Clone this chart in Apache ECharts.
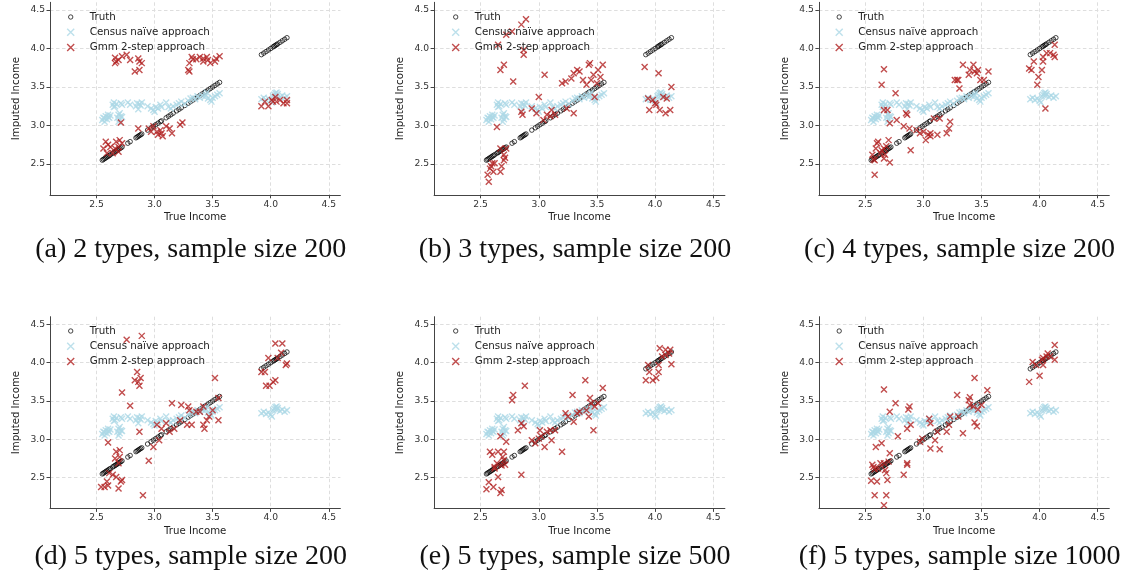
<!DOCTYPE html>
<html>
<head>
<meta charset="utf-8">
<script src="https://cdn.jsdelivr.net/npm/echarts@6/dist/echarts.min.js"></script>
<style>
  html, body { margin: 0; padding: 0; background: #ffffff; }
  #chart { width: 1128px; height: 581px; }
</style>
</head>
<body>
<div id="chart"></div>
<script>
// ---- data -------------------------------------------------------------
const tickValues = [2.5, 3.0, 3.5, 4.0, 4.5];

const seriesNames = ['Truth', 'Census na\u00efve approach', 'Gmm 2-step approach'];

const captions = [
  '(a) 2 types, sample size 200',
  '(b) 3 types, sample size 200',
  '(c) 4 types, sample size 200',
  '(d) 5 types, sample size 200',
  '(e) 5 types, sample size 500',
  '(f) 5 types, sample size 1000'
];

// true income of the observations (the truth marks sit on imputed = true)
const trueIncome = [
  2.55, 2.56, 2.57, 2.58, 2.59, 2.60, 2.61, 2.62, 2.64, 2.65, 2.66, 2.67, 2.68, 2.69, 2.70, 2.71, 2.72,
  2.77, 2.79, 2.84, 2.85, 2.86, 2.87, 2.88, 2.89,
  2.94, 2.97, 2.99, 3.01, 3.03, 3.05, 3.06,
  3.10, 3.12, 3.14, 3.16, 3.19, 3.21, 3.23, 3.26,
  3.29, 3.31, 3.33, 3.35, 3.37, 3.39, 3.41, 3.43, 3.44, 3.46, 3.48, 3.50, 3.52, 3.54, 3.56,
  3.92, 3.94, 3.96, 3.98, 4.00, 4.02, 4.03, 4.04, 4.05, 4.06, 4.08, 4.10, 4.12, 4.14
];

// census naive imputation: [true income, imputed income]
const censusNaive = [
  [2.55,3.07],[2.56,3.10],[2.57,3.09],[2.58,3.12],[2.59,3.08],[2.60,3.11],[2.61,3.10],[2.62,3.13],[2.57,3.05],[2.60,3.14],
  [2.64,3.27],[2.65,3.30],[2.66,3.25],[2.67,3.28],[2.65,3.24],[2.68,3.10],[2.69,3.14],[2.70,3.08],[2.71,3.12],[2.72,3.27],
  [2.69,3.05],[2.70,3.16],[2.72,3.11],[2.71,3.29],
  [2.77,3.30],[2.79,3.27],[2.84,3.25],[2.85,3.29],[2.86,3.21],[2.87,3.28],[2.88,3.26],[2.89,3.30],
  [2.94,3.25],[2.97,3.22],[2.99,3.20],[3.01,3.24],[3.03,3.22],[3.05,3.27],[3.06,3.24],[3.00,3.18],
  [3.10,3.30],[3.12,3.24],[3.14,3.22],[3.16,3.25],[3.19,3.27],[3.21,3.29],[3.23,3.31],[3.26,3.28],
  [3.29,3.32],[3.31,3.35],[3.33,3.36],[3.35,3.34],[3.37,3.38],[3.39,3.36],[3.41,3.39],[3.43,3.37],[3.44,3.40],[3.46,3.35],
  [3.48,3.33],[3.50,3.36],[3.52,3.38],[3.54,3.40],[3.56,3.42],[3.45,3.43],[3.49,3.31],
  [3.92,3.34],[3.94,3.36],[3.96,3.33],[3.98,3.35],[4.00,3.32],[4.02,3.38],[4.03,3.40],[4.04,3.42],[4.05,3.39],[4.06,3.41],
  [4.08,3.37],[4.10,3.39],[4.12,3.36],[4.14,3.38],[4.01,3.30],[4.05,3.43]
];

// GMM 2-step imputation: [true income, imputed income]
const gmmTypes2N200 = [
  [2.56,2.70],[2.58,2.79],[2.59,2.64],[2.60,2.75],[2.62,2.72],[2.64,2.64],[2.66,2.70],[2.67,2.79],[2.69,2.72],[2.69,2.66],[2.70,2.81],[2.72,2.77],[2.71,3.04],
  [2.66,3.88],[2.66,3.81],[2.67,3.83],[2.69,3.85],[2.72,3.90],[2.76,3.92],[2.79,3.85],[2.83,3.70],[2.86,3.87],[2.87,3.83],[2.87,3.72],[2.89,3.81],
  [2.86,2.96],[2.95,2.96],[2.97,2.92],[2.99,2.99],[3.02,2.92],[3.03,2.88],[3.05,2.94],[3.06,2.90],[3.07,2.86],[3.10,2.99],[3.13,2.96],[3.15,2.90],[3.22,3.01],[3.24,3.04],
  [3.29,3.72],[3.30,3.70],[3.30,3.81],[3.32,3.89],[3.33,3.86],[3.36,3.86],[3.39,3.89],[3.42,3.83],[3.42,3.87],[3.45,3.89],[3.46,3.85],[3.48,3.81],[3.52,3.83],[3.53,3.87],[3.56,3.90],
  [3.92,3.25],[3.95,3.31],[3.98,3.25],[4.01,3.33],[4.02,3.31],[4.04,3.37],[4.05,3.31],[4.08,3.33],[4.11,3.29],[4.14,3.33],[4.14,3.29]
];

const gmmTypes3N200 = [
  [2.56,2.36],[2.57,2.27],[2.58,2.44],[2.60,2.51],[2.61,2.40],[2.62,2.51],[2.67,2.40],[2.68,2.47],[2.70,2.55],[2.70,2.62],[2.72,2.70],[2.67,2.70],[2.64,2.98],[2.59,2.47],[2.71,2.58],
  [2.65,4.05],[2.67,3.72],[2.70,3.79],[2.72,4.18],[2.77,4.22],[2.78,3.57],[2.85,4.31],[2.87,3.92],[2.87,3.98],[2.89,4.38],
  [2.85,3.18],[2.86,3.14],[2.94,3.22],[2.98,3.16],[3.00,3.37],[3.05,3.66],[3.04,3.07],[3.07,3.14],[3.10,3.12],[3.11,3.20],[3.14,3.14],
  [3.20,3.55],[3.23,3.57],[3.24,3.22],[3.28,3.61],[3.30,3.16],[3.30,3.68],[3.33,3.72],[3.35,3.70],[3.38,3.59],[3.41,3.53],[3.43,3.79],[3.44,3.81],[3.45,3.59],
  [3.48,3.37],[3.47,3.66],[3.51,3.72],[3.53,3.63],[3.55,3.79],[3.50,3.55],
  [3.91,3.76],[3.94,3.35],[3.95,3.20],[3.98,3.33],[4.01,3.27],[4.03,3.68],[4.04,3.20],[4.07,3.37],[4.09,3.16],[4.10,3.35],[4.13,3.20],[4.14,3.50],[4.00,3.29]
];

const gmmTypes4N200 = [
  [2.56,2.62],[2.57,2.56],[2.58,2.36],[2.59,2.70],[2.60,2.77],[2.58,2.55],[2.61,2.79],[2.63,2.64],[2.64,2.68],[2.66,2.57],[2.66,2.70],[2.67,2.62],[2.68,2.73],[2.70,2.81],[2.71,2.52],
  [2.64,3.53],[2.66,3.73],[2.66,3.20],[2.69,3.20],[2.71,3.03],[2.76,3.42],[2.77,3.07],[2.83,2.99],[2.85,3.16],[2.86,3.14],[2.88,2.96],[2.89,2.68],
  [2.94,2.94],[2.97,2.90],[3.00,2.92],[3.02,2.81],[3.04,2.88],[3.06,2.86],[3.06,2.90],[3.09,3.09],[3.12,2.88],[3.14,3.09],[3.20,2.90],[3.22,2.96],[3.23,3.05],
  [3.27,3.59],[3.29,3.59],[3.31,3.48],[3.30,3.59],[3.34,3.79],[3.39,3.66],[3.40,3.72],[3.43,3.79],[3.44,3.70],[3.47,3.72],[3.49,3.59],[3.52,3.59],[3.56,3.70],[3.46,3.68],
  [3.91,3.74],[3.93,3.72],[3.95,3.83],[3.98,3.53],[3.99,3.63],[4.02,3.72],[4.03,3.83],[4.03,3.89],[4.05,3.22],[4.06,3.94],[4.09,3.94],[4.12,3.92],[4.13,3.89],[4.13,4.05]
];

const gmmTypes5N200 = [
  [2.54,2.38],[2.57,2.38],[2.59,2.45],[2.60,2.40],[2.61,2.56],[2.60,2.96],[2.64,2.54],[2.66,2.75],[2.67,2.84],[2.69,2.69],[2.67,2.51],[2.70,2.86],[2.70,2.77],[2.71,2.45],[2.69,2.36],[2.72,2.47],
  [2.72,3.61],[2.76,4.30],[2.79,3.44],[2.83,3.77],[2.85,3.88],[2.86,3.75],[2.87,3.70],[2.87,3.10],[2.88,3.80],[2.89,4.35],[2.90,2.27],
  [2.95,2.72],[2.99,2.90],[3.02,3.19],[3.04,2.99],[3.06,3.14],[3.10,3.21],[3.13,3.10],[3.15,3.47],[3.17,3.14],[3.22,3.25],[3.23,3.45],
  [3.28,3.19],[3.29,3.43],[3.30,3.38],[3.32,3.19],[3.36,3.36],[3.39,3.36],[3.42,3.19],[3.43,3.14],[3.45,3.25],[3.47,3.30],[3.50,3.38],[3.52,3.80],[3.55,3.25],[3.55,3.54],[3.42,3.43],
  [3.92,3.88],[3.95,3.88],[3.96,3.70],[3.99,3.70],[4.02,3.75],[4.04,3.77],[4.04,4.25],[4.06,4.06],[4.09,4.13],[4.10,4.25],[4.13,3.97],[4.14,3.99],[3.98,4.06]
];

const gmmTypes5N500 = [
  [2.55,2.35],[2.57,2.44],[2.58,2.84],[2.60,2.80],[2.61,2.38],[2.62,2.64],[2.64,2.69],[2.65,2.84],[2.65,2.51],[2.67,2.30],[2.68,2.34],[2.69,2.77],[2.70,2.84],[2.71,2.67],[2.72,2.97],
  [2.67,3.04],[2.70,2.73],[2.62,2.62],[2.68,2.66],
  [2.77,3.51],[2.78,3.58],[2.82,3.12],[2.85,3.21],[2.85,2.54],[2.88,3.70],[2.87,3.17],
  [2.94,2.99],[2.97,2.95],[3.00,3.01],[3.01,3.12],[3.02,3.04],[3.05,2.90],[3.07,3.10],[3.10,3.12],[3.11,2.99],[3.14,3.12],[3.20,2.84],
  [3.23,3.34],[3.25,3.30],[3.29,3.58],[3.30,3.23],[3.33,3.34],[3.35,3.36],[3.40,3.77],[3.43,3.30],[3.44,3.54],[3.45,3.47],[3.47,3.12],[3.48,3.43],[3.51,3.47],[3.55,3.67],[3.41,3.38],
  [3.92,3.77],[3.94,3.97],[3.95,3.88],[3.98,3.77],[4.01,3.80],[4.03,3.88],[4.04,4.19],[4.06,4.08],[4.09,4.17],[4.12,4.12],[4.14,3.98],[4.03,3.97],[4.09,4.10],[4.13,4.17]
];

const gmmTypes5N1000 = [
  [2.55,2.46],[2.56,2.67],[2.58,2.61],[2.58,2.27],[2.59,2.90],[2.60,2.45],[2.61,2.62],[2.63,2.69],[2.64,2.95],[2.66,3.65],[2.66,2.14],[2.66,2.69],[2.67,2.60],[2.68,2.27],[2.68,2.56],
  [2.69,2.47],[2.70,2.71],[2.71,2.82],[2.71,3.36],[2.57,2.64],
  [2.76,3.47],[2.78,3.04],[2.83,2.54],[2.86,3.14],[2.86,2.69],[2.86,2.67],[2.87,3.39],[2.88,3.43],[2.89,3.19],
  [2.97,2.97],[2.99,3.01],[3.05,3.27],[3.06,3.21],[3.06,2.88],[3.10,2.99],[3.12,3.10],[3.14,2.87],[3.20,3.10],[3.22,3.19],[3.23,3.30],
  [3.29,3.58],[3.30,3.30],[3.34,3.08],[3.39,3.51],[3.40,3.45],[3.43,3.43],[3.44,3.22],[3.44,3.80],[3.46,3.17],[3.47,3.39],[3.50,3.45],[3.55,3.64],[3.40,3.55],
  [3.91,3.75],[3.94,4.01],[3.97,3.97],[4.00,3.83],[4.03,3.97],[4.03,4.06],[4.06,4.08],[4.07,4.12],[4.09,4.08],[4.13,4.23],[4.13,4.04],[4.02,4.04]
];

const gmmPanels = [gmmTypes2N200, gmmTypes3N200, gmmTypes4N200, gmmTypes5N200, gmmTypes5N500, gmmTypes5N1000];

// ---- layout & styling -------------------------------------------------
const SANS = 'DejaVu Sans';
const SERIF = 'Liberation Serif';
const X_MARK = 'path://M0,0L10,10M0,10L10,0';
// small ring inside a larger box so the legend keeps it small
const RING_ICON = 'path://M0,0M14,14M2.6,7a4.4,4.4 0 1,0 8.8,0a4.4,4.4 0 1,0 -8.8,0';
const CENSUS_COLOR = '#add8e6';
const GMM_COLOR = '#b22222';

// legend boxes are placed by their visible extent, which starts at the icon
const columns = [
  { left: 50.0,  width: 290.4, legendLeft: 66.5 },
  { left: 434.1, width: 290.8, legendLeft: 451.5 },
  { left: 818.9, width: 290.4, legendLeft: 835 }
];
const rows = [
  { top: 2.3,   height: 192.5, legendTop: 11,  captionY: 250 },
  { top: 316.7, height: 191.7, legendTop: 325, captionY: 556.5 }
];

const grid = [], xAxis = [], yAxis = [], series = [], legend = [], graphicEls = [];

gmmPanels.forEach((gmm, i) => {
  const col = columns[i % 3];
  const row = rows[Math.floor(i / 3)];

  grid.push({ left: col.left, top: row.top, width: col.width, height: row.height, containLabel: false });

  const axisCommon = {
    gridIndex: i,
    type: 'value',
    min: 2.1,
    max: 4.6,
    nameLocation: 'middle',
    nameTextStyle: { fontFamily: SANS, fontSize: 10.2, color: '#222' },
    axisLine: { show: true, onZero: false, lineStyle: { color: '#444', width: 1 } },
    axisTick: { show: true, customValues: tickValues, length: 3.5, lineStyle: { color: '#444', width: 1 } },
    axisLabel: {
      customValues: tickValues,
      formatter: v => Number(v).toFixed(1),
      fontFamily: SANS, fontSize: 9.2, color: '#333', margin: 5
    },
    splitLine: { show: true, lineStyle: { color: '#dedede', width: 1, type: [3.5, 2.5] } }
  };
  xAxis.push(Object.assign({}, axisCommon, { name: 'True Income', nameGap: 18 }));
  yAxis.push(Object.assign({}, axisCommon, { name: 'Imputed Income', nameGap: 29 }));

  series.push({
    type: 'scatter', name: seriesNames[0], xAxisIndex: i, yAxisIndex: i,
    data: trueIncome.map(v => [v, v]),
    symbol: 'circle', symbolSize: 4.5,
    itemStyle: { color: 'rgba(0,0,0,0)', borderColor: '#000', borderWidth: 0.9 },
    emphasis: { disabled: true }, animation: false
  });
  series.push({
    type: 'scatter', name: seriesNames[1], xAxisIndex: i, yAxisIndex: i,
    data: censusNaive,
    symbol: X_MARK, symbolSize: 6,
    itemStyle: { color: 'rgba(0,0,0,0)', borderColor: CENSUS_COLOR, borderWidth: 1.4 },
    emphasis: { disabled: true }, animation: false
  });
  series.push({
    type: 'scatter', name: seriesNames[2], xAxisIndex: i, yAxisIndex: i,
    data: gmm,
    symbol: X_MARK, symbolSize: 6,
    itemStyle: { color: 'rgba(0,0,0,0)', borderColor: GMM_COLOR, borderWidth: 1.4 },
    emphasis: { disabled: true }, animation: false
  });

  legend.push({
    orient: 'vertical',
    left: col.legendLeft,
    top: row.legendTop,
    padding: 0,
    itemWidth: 28,
    itemHeight: 7,
    itemGap: 3.3,
    selectedMode: false,
    textStyle: { fontFamily: SANS, fontSize: 10.3, color: '#222', lineHeight: 12 },
    data: [
      { name: seriesNames[0], icon: RING_ICON, itemStyle: { color: 'rgba(0,0,0,0)', borderColor: '#000', borderWidth: 0.9 } },
      { name: seriesNames[1], icon: X_MARK, itemStyle: { color: 'rgba(0,0,0,0)', borderColor: CENSUS_COLOR, borderWidth: 1.4 } },
      { name: seriesNames[2], icon: X_MARK, itemStyle: { color: 'rgba(0,0,0,0)', borderColor: GMM_COLOR, borderWidth: 1.4 } }
    ]
  });

  graphicEls.push({
    type: 'text',
    x: col.left + col.width / 2 - 4.5,
    y: row.captionY,
    style: {
      text: captions[i],
      font: '28px "' + SERIF + '"',
      fill: '#111',
      align: 'center',
      verticalAlign: 'middle'
    },
    silent: true
  });
});

const chart = echarts.init(document.getElementById('chart'), null, { renderer: 'canvas' });
chart.setOption({
  animation: false,
  backgroundColor: '#ffffff',
  grid, xAxis, yAxis, series, legend,
  graphic: { elements: graphicEls }
});
</script>
</body>
</html>
